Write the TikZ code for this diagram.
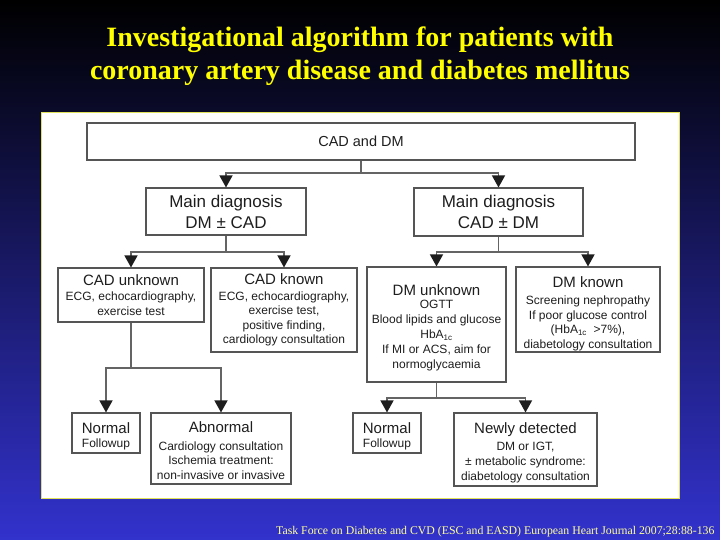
\documentclass[tikz,border=0pt]{standalone}
\usepackage{fontspec}
\setmainfont{Liberation Serif}
\newfontfamily\arial{Liberation Sans}
\usetikzlibrary{arrows.meta}
\definecolor{bgblue}{RGB}{50,50,205}
\definecolor{ttl}{RGB}{255,255,0}
\definecolor{foot}{RGB}{255,255,150}
\definecolor{boxc}{RGB}{85,85,85}
\definecolor{linec}{RGB}{100,100,100}
\definecolor{txt}{RGB}{30,30,30}
\definecolor{framec}{RGB}{225,225,90}
\newcommand\hdf{\fontsize{15}{17}\selectfont}
\newcommand\smf{\fontsize{12}{14.5}\selectfont}
\newcommand\mdf{\fontsize{17}{21}\selectfont}
\newcommand\lift[1]{\rule{0pt}{#1}}
\begin{document}
\begin{tikzpicture}[x=1pt,y=-1pt,
 box/.style={draw=boxc, line width=1.1pt, fill=white, align=center, inner sep=0pt, text=txt, font=\arial\smf},
 conn/.style={draw=linec, line width=1.4pt},
 arr/.style={conn, -{Triangle[width=13pt,length=12pt,color=txt]}},
 titlef/.style={font=\bfseries\fontsize{28}{33}\selectfont, text=ttl, anchor=base}]
\useasboundingbox (0,0) rectangle (720,540);
\shade[top color=black, bottom color=bgblue] (0,0) rectangle (720,540);
\node[titlef] (t1) at (360,47) {Investigational algorithm for patients with};
\node[titlef] (t2) at (360,80) {coronary artery disease and diabetes mellitus};
\node[draw=framec, fill=white, minimum width=638pt, minimum height=386pt, inner sep=0pt, line width=0.8pt] (panel) at (360,305) {};
% boxes
\node[box, minimum width=548pt, minimum height=37pt, font=\arial\fontsize{14.5}{17}\selectfont] (top) at (361,141.5) {CAD and DM};
\node[box, minimum width=160pt, minimum height=47pt, font=\arial\mdf] (md1) at (226,211.5) {Main diagnosis\\DM ± CAD};
\node[box, minimum width=169pt, minimum height=48pt, font=\arial\mdf] (md2) at (498.5,212) {Main diagnosis\\CAD ± DM};
\node[box, minimum width=146pt, minimum height=54pt] (cu) at (131,295) {{\hdf CAD unknown}\\[1pt]ECG, echocardiography,\\exercise test};
\node[box, minimum width=146pt, minimum height=84pt] (ck) at (284,310) {{\hdf CAD known}\\[1pt]ECG, echocardiography,\\exercise test,\\positive finding,\\cardiology consultation};
\node[box, minimum width=139pt, minimum height=115pt, font=\arial\fontsize{12}{15}\selectfont] (du) at (436.5,324.5) {{\hdf\lift{17pt}DM unknown}\\[-1.5pt]OGTT\\Blood lipids and glucose\\HbA\textsubscript{1c}\\If MI or ACS, aim for\\normoglycaemia};
\node[box, minimum width=144pt, minimum height=85pt] (dk) at (588,309.5) {{\hdf\lift{19pt}DM known}\\[3pt]Screening nephropathy\\If poor glucose control\\(HbA\textsubscript{1c}\ \ {>}7\%),\\diabetology consultation};
\node[box, minimum width=68pt, minimum height=40pt] (n1) at (106,433) {{\hdf\lift{17pt}Normal}\\[0pt]Followup};
\node[box, minimum width=140pt, minimum height=71pt] (ab) at (221,448.5) {{\hdf\lift{15pt}Abnormal}\\[3pt]Cardiology consultation\\Ischemia treatment:\\non-invasive or invasive};
\node[box, minimum width=68pt, minimum height=40pt] (n2) at (387,433) {{\hdf\lift{17pt}Normal}\\[0pt]Followup};
\node[box, minimum width=143pt, minimum height=73pt, font=\arial\fontsize{12}{15}\selectfont] (nd) at (525.5,449.5) {{\hdf\lift{17pt}Newly detected}\\[2.5pt]DM or IGT,\\± metabolic syndrome:\\diabetology consultation};
% connectors
\coordinate (j0) at (361,173);
\coordinate (j1) at (226,252);
\coordinate (j2) at (498.5,252);
\coordinate (j3) at (131,368);
\coordinate (j4) at (436.5,398);
\draw[conn] (top.south) -- (j0);
\draw[arr] (j0) -| (md1.north);
\draw[arr] (j0) -| (md2.north);
\draw[conn] (md1.south) -- (j1);
\draw[arr] (j1) -| (cu.north);
\draw[arr] (j1) -| (ck.north);
\draw[conn] (md2.south) -- (j2);
\draw[arr] (j2) -| (du.north);
\draw[arr] (j2) -| (dk.north);
\draw[conn] (cu.south) -- (j3);
\draw[arr] (j3) -| (n1.north);
\draw[arr] (j3) -| (ab.north);
\draw[conn] (du.south) -- (j4);
\draw[arr] (j4) -| (n2.north);
\draw[arr] (j4) -| (nd.north);
\node[font=\fontsize{11.8}{14}\selectfont, text=foot, anchor=base east] (ft) at (718,534) {Task Force on Diabetes and CVD (ESC and EASD) European Heart Journal 2007;28:88-136};
\end{tikzpicture}
\end{document}
